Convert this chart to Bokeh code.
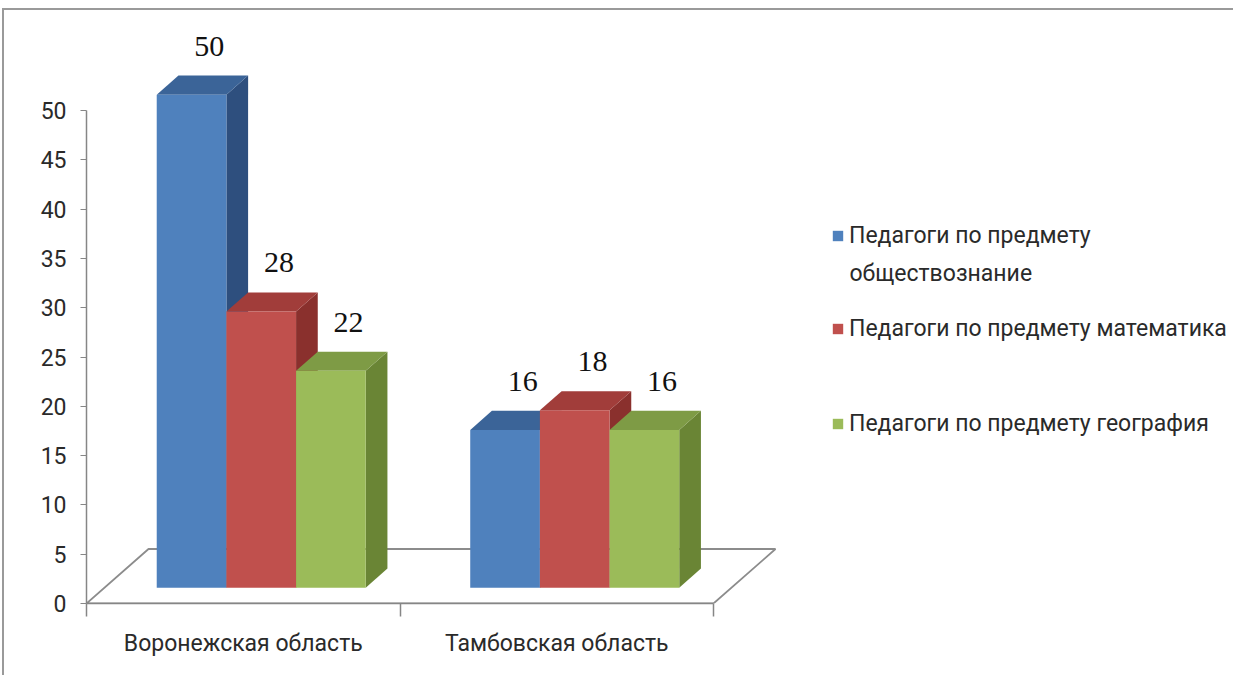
from bokeh.plotting import figure
from bokeh.models import (Range1d, FixedTicker, Legend, LegendItem, Label)
from bokeh.core.properties import value
from bokeh.embed import file_html
from bokeh.resources import INLINE

# ---- data ----
categories = ["Воронежская область", "Тамбовская область"]
series_names = ["Педагоги по предмету обществознание",
                "Педагоги по предмету математика",
                "Педагоги по предмету география"]
social = [50, 16]
math_ = [28, 18]
geo = [22, 16]
y_ticks = [0, 5, 10, 15, 20, 25, 30, 35, 40, 45, 50]

series_values = [social, math_, geo]
front_colors = ["#4F81BD", "#C0504D", "#9BBB59"]
top_colors = ["#3B6498", "#A13D3A", "#7E9B45"]
side_colors = ["#2E4F7E", "#8A302D", "#6A8535"]

SANS = "Roboto"
SERIF = "Liberation Serif"

PX_X = 313.5   # pixels per category unit
PX_Y = 9.86    # pixels per value unit
W, H = 1231, 667
FL, FB = 82, 74   # frame borders left / bottom
p = figure(width=W, height=H, output_backend="svg", toolbar_location=None,
           x_range=Range1d(0, (W - FL) / PX_X), y_range=Range1d(0, (H - FB) / PX_Y),
           min_border_left=FL, min_border_right=0, min_border_top=0,
           min_border_bottom=FB)
p.styles = {"border-top": "2px solid #9a9a9a", "border-left": "2px solid #9a9a9a",
            "margin-top": "8px", "margin-left": "2px"}
p.grid.visible = False
p.outline_line_color = None
p.background_fill_color = "white"
p.border_fill_color = "white"

# axes
ya = p.yaxis[0]
ya.ticker = FixedTicker(ticks=y_ticks)
ya.bounds = (0, 50)
ya.axis_line_color = "#868686"
ya.axis_line_width = 1.5
ya.major_tick_line_color = "#868686"
ya.major_tick_in = 0
ya.major_tick_out = 6
ya.minor_tick_line_color = None
ya.major_label_text_font = SANS
ya.major_label_text_font_size = "23px"
ya.major_label_text_color = "#2a2a2a"
ya.major_label_standoff = 14

xa = p.xaxis[0]
ncat = len(categories)
xa.ticker = FixedTicker(ticks=[i + 0.5 for i in range(ncat)],
                        minor_ticks=[float(i) for i in range(ncat + 1)])
xa.major_label_overrides = {i + 0.5: c for i, c in enumerate(categories)}
xa.bounds = (0, ncat)
xa.axis_line_color = "#868686"
xa.axis_line_width = 1.5
xa.major_tick_line_color = None
xa.major_tick_out = 0
xa.major_tick_in = 0
xa.minor_tick_line_color = "#868686"
xa.minor_tick_line_width = 1.5
xa.minor_tick_in = 0
xa.minor_tick_out = 13
xa.major_label_text_font = SANS
xa.major_label_text_font_size = "23px"
xa.major_label_text_color = "#2a2a2a"
xa.major_label_standoff = 13

# 3D geometry (in data units)
depth_x = 62 / PX_X
depth_y = 54.5 / PX_Y
f0, f1 = 0.29, 0.64
off_x, off_y = f0 * depth_x, f0 * depth_y
ddx, ddy = (f1 - f0) * depth_x, (f1 - f0) * depth_y
bw = 1 / 4.5

# floor
p.patch(x=[0, ncat, ncat + depth_x, depth_x], y=[0, 0, depth_y, depth_y],
        fill_color="white", line_color="#8c8c8c", line_width=1.8)

items = []
lab_x, lab_y, lab_t = [], [], []
for j, vals in enumerate(series_values):
    left = [i + 0.5 + (j - 1.5) * bw + off_x for i in range(ncat)]
    right = [l + bw for l in left]
    bottom = [off_y] * ncat
    top = [v + off_y for v in vals]
    side_xs = [[r, r + ddx, r + ddx, r] for r in right]
    side_ys = [[b, b + ddy, t + ddy, t] for b, t in zip(bottom, top)]
    top_xs = [[l, r, r + ddx, l + ddx] for l, r in zip(left, right)]
    top_ys = [[t, t, t + ddy, t + ddy] for t in top]
    p.patches(xs=side_xs, ys=side_ys, fill_color=side_colors[j], line_color=None)
    p.patches(xs=top_xs, ys=top_ys, fill_color=top_colors[j], line_color=None)
    r = p.quad(left=left, right=right, bottom=bottom, top=top,
               fill_color=front_colors[j], line_color=None)
    items.append((series_names[j], r))
    for l, t, v in zip(left, top, vals):
        lab_x.append(l + bw / 2 + ddx - 4 / PX_X)
        lab_y.append(t + ddy + 3.0)
        lab_t.append(str(v))

p.text(x=lab_x, y=lab_y, text=lab_t, text_font=value(SERIF),
       text_font_size="30px", text_color="#111111",
       text_align="center", text_baseline="middle")

# legends (one per entry for exact placement); first entry wraps to 2 lines
LEG_X = 745
leg_bottoms = [354, 261, 166]
wrap_word = "обществознание"
for k, ((name, r), yb) in enumerate(zip(items, leg_bottoms)):
    label = name
    if wrap_word in name:
        label = name.replace(" " + wrap_word, "")
    lg = Legend(items=[LegendItem(label=label, renderers=[r])], location=(LEG_X, yb),
                border_line_color=None, background_fill_alpha=0,
                padding=0, margin=0, glyph_width=13, glyph_height=13,
                label_standoff=5, label_text_font=SANS,
                label_text_font_size="23px", label_text_color="#2a2a2a")
    p.add_layout(lg)
    if label != name:
        p.add_layout(Label(x=(LEG_X + 18) / PX_X, y=(yb - 24) / PX_Y, text=wrap_word,
                           text_font=SANS, text_font_size="23px",
                           text_color="#2a2a2a", text_baseline="middle",
                           text_align="left"))

open("out.html", "w").write(file_html(p, INLINE))
